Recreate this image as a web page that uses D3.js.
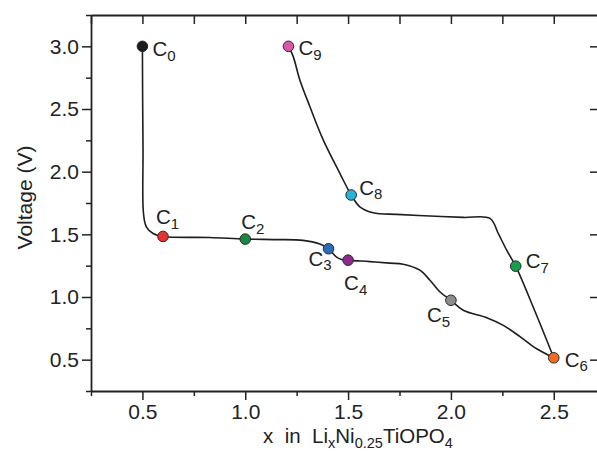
<!DOCTYPE html>
<html><head><meta charset="utf-8">
<script src="https://cdn.jsdelivr.net/npm/d3@7/dist/d3.min.js"></script>
<style>
html,body{margin:0;padding:0;background:#fff;}
svg{display:block;font-family:"Liberation Sans",Arial,Helvetica,sans-serif;}
</style></head>
<body>
<svg id="chart" width="597" height="459"></svg>
<script>
// ---- data ----
const dischargeX = [0.5, 0.501, 0.503, 0.505, 0.519, 0.552, 0.6, 0.827, 1.0, 1.15, 1.281, 1.363, 1.405, 1.444, 1.468, 1.5, 1.605, 1.703, 1.768, 1.849, 1.898, 1.947, 2.0, 2.06, 2.174, 2.255, 2.339, 2.417, 2.5];
const dischargeV = [3.0, 2.6, 2.17, 1.67, 1.56, 1.507, 1.483, 1.475, 1.462, 1.458, 1.452, 1.422, 1.385, 1.318, 1.300, 1.294, 1.282, 1.27, 1.262, 1.214, 1.134, 1.04, 0.974, 0.894, 0.835, 0.774, 0.68, 0.587, 0.515];
const chargeX = [2.5, 2.41, 2.315, 2.271, 2.23, 2.19, 2.06, 1.898, 1.736, 1.622, 1.557, 1.515, 1.46, 1.379, 1.314, 1.265, 1.233, 1.21];
const chargeV = [0.515, 0.88, 1.246, 1.374, 1.507, 1.627, 1.635, 1.646, 1.659, 1.672, 1.72, 1.814, 1.987, 2.254, 2.52, 2.734, 2.92, 3.0];

const markerSub = ["0","1","2","3","4","5","6","7","8","9"];
const markerX = [0.5, 0.6, 1.0, 1.405, 1.5, 2.0, 2.5, 2.315, 1.515, 1.21];
const markerV = [3.0, 1.483, 1.462, 1.385, 1.294, 0.974, 0.515, 1.246, 1.814, 3.0];
const markerColor = ["#1b1b1b","#e8322f","#1a8840","#2b6cb6","#8d2a8b","#8c8c8c","#f26b22","#17a04b","#22b5d6","#d85aa7"];

const xMajorTicks = [0.5, 1.0, 1.5, 2.0, 2.5];
const xMinorTicks = [0.25, 0.75, 1.25, 1.75, 2.25];
const yMajorTicks = [0.5, 1.0, 1.5, 2.0, 2.5, 3.0];
const yMinorTicks = [0.25, 0.75, 1.25, 1.75, 2.25, 2.75, 3.25];

// ---- layout ----
const labelOffset = [[10,10],[-7,-12],[-4,-10],[-20,17],[-4,30],[-24,22],[11,9],[10,2],[8,0],[10,9]];
const svg = d3.select("#chart");
const xS = d3.scaleLinear().domain([0.25, 2.72]).range([91, 599]);
const yS = d3.scaleLinear().domain([0.25, 3.25]).range([391, 15]);
const axisColor = "#222";

function styleAxis(g){
  g.selectAll(".domain").attr("stroke", axisColor).attr("stroke-width", 1.8);
  g.selectAll(".tick line").attr("stroke", axisColor).attr("stroke-width", 1.5);
  g.selectAll("text").attr("fill", axisColor).attr("font-size", 21)
   .attr("font-family", "'Liberation Sans', Arial, sans-serif");
}

// frame lines (top/right)
const gTop = svg.append("g").attr("transform", `translate(0,${yS(3.25)})`)
  .call(d3.axisBottom(xS).tickValues([...xMajorTicks, ...xMinorTicks]).tickSize(9).tickSizeOuter(0).tickFormat(""));
styleAxis(gTop);
const gRight = svg.append("g").attr("transform", `translate(${xS(2.72)},0)`)
  .call(d3.axisLeft(yS).tickValues(yMajorTicks).tickSize(9).tickSizeOuter(0).tickFormat(""));
styleAxis(gRight);

// bottom axis
const gBottom = svg.append("g").attr("transform", `translate(0,${yS(0.25)})`)
  .call(d3.axisBottom(xS).tickValues(xMajorTicks).tickSize(9).tickPadding(4.5).tickSizeOuter(0).tickFormat(d3.format(".1f")));
styleAxis(gBottom);
const gBottomMinor = svg.append("g").attr("transform", `translate(0,${yS(0.25)})`)
  .call(d3.axisBottom(xS).tickValues(xMinorTicks).tickSize(5).tickSizeOuter(0).tickFormat(""));
styleAxis(gBottomMinor);
gBottomMinor.select(".domain").remove();

// left axis
const gLeft = svg.append("g").attr("transform", `translate(${xS(0.25)},0)`)
  .call(d3.axisLeft(yS).tickValues(yMajorTicks).tickSize(9).tickPadding(3).tickSizeOuter(0).tickFormat(d3.format(".1f")));
styleAxis(gLeft);
const gLeftMinor = svg.append("g").attr("transform", `translate(${xS(0.25)},0)`)
  .call(d3.axisLeft(yS).tickValues(yMinorTicks).tickSize(5).tickSizeOuter(0).tickFormat(""));
styleAxis(gLeftMinor);
gLeftMinor.select(".domain").remove();

// axis titles
svg.append("text").attr("transform", "translate(32,197.5) rotate(-90)")
  .attr("text-anchor","middle").attr("font-size",21).attr("fill",axisColor).text("Voltage (V)");

const xt = svg.append("text").attr("x", 358).attr("y", 443).attr("text-anchor","middle")
  .attr("font-size",20.5).attr("fill",axisColor);
const parts = [["x\u00a0\u00a0in\u00a0\u00a0Li",0],["x",1],["Ni",0],["0.25",1],["TiOPO",0],["4",1]];
let prevSub = 0;
parts.forEach(([t,s])=>{
  const dy = s ? (prevSub ? 0 : 5) : (prevSub ? -5 : 0);
  xt.append("tspan").attr("dy", dy).attr("font-size", s ? 14.5 : 20.5).text(t);
  prevSub = s;
});

// curves
const lineGen = d3.line().x(d=>xS(d[0])).y(d=>yS(d[1])).curve(d3.curveCatmullRom.alpha(0.5));
svg.append("path").datum(dischargeX.map((v,i)=>[v, dischargeV[i]]))
  .attr("d", lineGen).attr("fill","none").attr("stroke","#1e1e1e").attr("stroke-width",1.6);
svg.append("path").datum(chargeX.map((v,i)=>[v, chargeV[i]]))
  .attr("d", lineGen).attr("fill","none").attr("stroke","#1e1e1e").attr("stroke-width",1.6);

// markers
svg.selectAll("circle.m").data(markerX).enter().append("circle")
  .attr("class","m").attr("cx", d=>xS(d)).attr("cy", (d,i)=>yS(markerV[i])).attr("r", 5.3)
  .attr("fill", (d,i)=>markerColor[i]).attr("stroke","#2a2a2a").attr("stroke-width",1);

// labels
markerX.forEach((d,i)=>{
  const t = svg.append("text").attr("x", xS(d)+labelOffset[i][0]).attr("y", yS(markerV[i])+labelOffset[i][1])
    .attr("fill", axisColor).attr("font-size", 20.5);
  t.append("tspan").text("C");
  t.append("tspan").attr("dy", 4.5).attr("font-size", 15).text(markerSub[i]);
});
</script>
</body></html>
